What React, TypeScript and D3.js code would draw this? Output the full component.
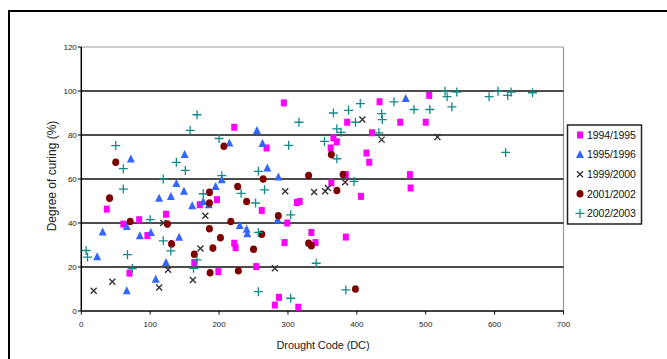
import * as d3 from 'd3'

// DATA: [Drought Code, Degree of curing %]
const s1994: [number, number][] = [
  [222, 83.5], [37, 46.3], [61, 39.5], [84, 41.5], [96, 34.3], [123, 44], [172, 48.3],
  [197, 50.6], [70, 17.2], [164, 22], [199, 17.9], [222, 30.8], [224, 28.8], [294, 94.6],
  [269, 74.1], [386, 85.8], [366, 78.7], [371, 76.9], [362, 74.1], [422, 81], [433, 95.1],
  [463, 85.8], [414, 71.8], [418, 67.6], [384, 62], [363, 58.2], [406, 52.1], [313, 49.3],
  [317, 49.8], [262, 45.7], [299, 40], [295, 31.1], [334, 35.7], [340, 31.1], [384, 33.6],
  [254, 20.2], [287, 6.2], [281, 2.7], [315, 1.7], [505, 98], [500, 85.8], [477, 62],
  [478, 55.9]
]

const s1995: [number, number][] = [
  [72, 69.1], [150, 71.1], [138, 57.9], [149, 54.4], [130, 52.1], [113, 51.3], [161, 47.8],
  [195, 56.6], [204, 59.7], [215, 76.4], [185, 48.3], [177, 49.8], [31, 35.9], [23, 24.7],
  [66, 38.4], [85, 34.2], [101, 35.7], [142, 33.5], [66, 9.2], [108, 14.4], [123, 22],
  [255, 82.1], [263, 76.1], [270, 65], [286, 60.9], [230, 38.9], [240, 37.2], [241, 35.1],
  [285, 41.5], [471, 96.6]
]

const s1999: [number, number][] = [
  [18, 9.2], [45, 13.3], [113, 10.7], [126, 18.7], [119, 40], [162, 14.1], [173, 28.4],
  [180, 43.3], [296, 54.4], [338, 54.1], [354, 54.4], [358, 55.9], [383, 58.5], [408, 87],
  [436, 77.9], [281, 19.4], [517, 79.1]
]

const s2001: [number, number][] = [
  [50, 67.6], [41, 51.3], [71, 40.7], [125, 39.5], [131, 30.5], [164, 25.8], [186, 53.9],
  [186, 49.1], [186, 37.4], [191, 28.6], [202, 33.3], [187, 17.4], [207, 74.9], [217, 40.7],
  [227, 56.6], [228, 18.3], [264, 60], [240, 49.8], [286, 43.3], [262, 34.9], [250, 28.1],
  [330, 61.6], [363, 71.1], [371, 54.8], [380, 62], [330, 30.8], [334, 29.7], [398, 10]
]

const s2002: [number, number][] = [
  [50, 75.2], [61, 64.7], [61, 55.4], [7, 27.5], [9, 24.5], [67, 25.6], [74, 19.3],
  [100, 41.5], [119, 60], [119, 31.9], [130, 27.3], [138, 67.6], [151, 63.9], [158, 82.1],
  [168, 89.2], [163, 19.4], [168, 23.2], [177, 53.3], [200, 78.4], [204, 61.5], [232, 53.5],
  [257, 63.5], [266, 55.1], [253, 49.1], [304, 43.7], [257, 35.7], [316, 85.8], [301, 75.3],
  [353, 77.1], [366, 90], [388, 91.2], [405, 94.3], [371, 82.8], [377, 81.2], [371, 69.2],
  [398, 85.8], [396, 58.9], [436, 89.7], [437, 87], [432, 81], [454, 95.1], [341, 21.7],
  [257, 8.8], [304, 5.8], [384, 9.6], [483, 91.6], [506, 91.6], [528, 99.9], [531, 97.4],
  [545, 99.5], [538, 92.8], [592, 97.4], [605, 99.9], [619, 98], [624, 99.5], [655, 99.2],
  [616, 72.1]
]

const seriesNames = ['1994/1995', '1995/1996', '1999/2000', '2001/2002', '2002/2003']
const xTicks = [0, 100, 200, 300, 400, 500, 600, 700]
const yTicks = [0, 20, 40, 60, 80, 100, 120]

const font = 'Liberation Sans, Arial, sans-serif'

const Marker = ({ kind, x, y }: { kind: number, x: number, y: number }) => {
  if (kind === 0) {
    return <rect x={x - 3} y={y - 3.5} width={6} height={7} fill='#ff00ff' />
  }
  if (kind === 1) {
    return <path d={`M${x},${y - 4.5} L${x + 4},${y + 3.5} L${x - 4},${y + 3.5} Z`} fill='#3366ff' />
  }
  if (kind === 2) {
    return <path d={`M${x - 3},${y - 3} L${x + 3},${y + 3} M${x - 3},${y + 3} L${x + 3},${y - 3}`} stroke='#333' strokeWidth={1.4} />
  }
  if (kind === 3) {
    return <ellipse cx={x} cy={y} rx={3.5} ry={3.8} fill='#800000' />
  }
  return <path d={`M${x - 4.5},${y} L${x + 4.5},${y} M${x},${y - 4.5} L${x},${y + 4.5}`} stroke='#138a8a' strokeWidth={1.3} />
}

const App = () => {
  const x = d3.scaleLinear().domain([0, 700]).range([81.3, 563.5])
  const y = d3.scaleLinear().domain([0, 120]).range([311, 47])

  const allSeries = [s1994, s1995, s1999, s2001, s2002]

  return (
    <svg width={667} height={359} style={{ position: 'absolute', left: 0, top: 0, background: '#fff' }}>
      <rect x={9} y={11} width={700} height={400} fill='#fff' stroke='#000' strokeWidth={2} />

      {/* plot border */}
      <line x1={x(0)} x2={x(700)} y1={y(120)} y2={y(120)} stroke='#999' strokeWidth={1.2} />
      <line x1={x(700)} x2={x(700)} y1={y(120)} y2={y(0)} stroke='#999' strokeWidth={1.2} />

      {/* gridlines */}
      {yTicks.filter(t => t > 0 && t < 120).map(t => (
        <line key={t} x1={x(0)} x2={x(700)} y1={y(t)} y2={y(t)} stroke='#111' strokeWidth={1.5} />
      ))}

      {/* axes */}
      <line x1={x(0)} x2={x(0)} y1={y(120)} y2={y(0)} stroke='#000' strokeWidth={1.5} />
      <line x1={x(0)} x2={x(700)} y1={y(0)} y2={y(0)} stroke='#000' strokeWidth={1.5} />

      {yTicks.map(t => (
        <g key={t}>
          <line x1={x(0) - 3.5} x2={x(0)} y1={y(t)} y2={y(t)} stroke='#000' strokeWidth={1} />
          <text x={x(0) - 4.5} y={y(t) + 2.8} textAnchor='end' fontSize={8} fontFamily={font} fill='#222'>{t}</text>
        </g>
      ))}
      {xTicks.map(t => (
        <g key={t}>
          <line x1={x(t)} x2={x(t)} y1={y(0)} y2={y(0) + 3.5} stroke='#000' strokeWidth={1} />
          <text x={x(t)} y={y(0) + 16} textAnchor='middle' fontSize={8} fontFamily={font} fill='#222'>{t}</text>
        </g>
      ))}

      <text x={323} y={349} textAnchor='middle' fontSize={11} fontFamily={font} fill='#222' letterSpacing={-0.1}>Drought Code (DC)</text>
      <text transform={`translate(56, 176) rotate(-90)`} textAnchor='middle' fontSize={12} fontFamily={font} fill='#222'>Degree of curing (%)</text>

      {/* points */}
      {allSeries.map((s, i) => (
        <g key={i}>
          {s.map((d, j) => <Marker key={j} kind={i} x={x(d[0])} y={y(d[1])} />)}
        </g>
      ))}

      {/* legend */}
      <rect x={567.5} y={125} width={74} height={99} fill='#fff' stroke='#222' strokeWidth={1.5} />
      {seriesNames.map((name, i) => (
        <g key={name}>
          <Marker kind={i} x={580} y={135 + i * 19.6} />
          <text x={587} y={135 + i * 19.6 + 3.8} fontSize={10.5} fontFamily={font} fill='#111' letterSpacing={-0.1}>{name}</text>
        </g>
      ))}
    </svg>
  )
}

export default App
